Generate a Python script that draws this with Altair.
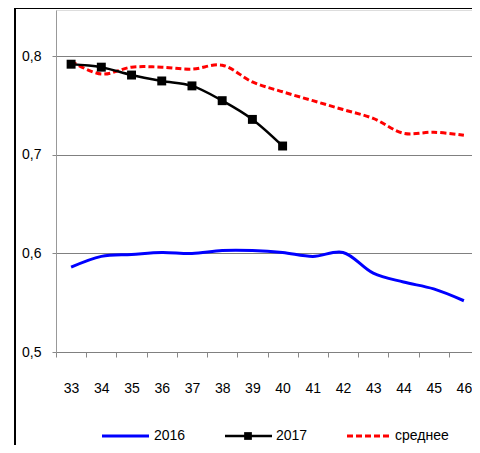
import altair as alt
import pandas as pd

ages = list(range(33, 47))
v2016 = [0.586, 0.597, 0.599, 0.601, 0.600, 0.603, 0.603, 0.601, 0.597, 0.601, 0.580, 0.571, 0.564, 0.552]
ages2017 = list(range(33, 41))
v2017 = [0.792, 0.789, 0.781, 0.775, 0.770, 0.755, 0.736, 0.709]
avg = [0.795, 0.782, 0.789, 0.789, 0.787, 0.791, 0.774, 0.764, 0.755, 0.746, 0.737, 0.722, 0.723, 0.720]
y_ticks = [0.5, 0.6, 0.7, 0.8]
series_names = ["2016", "2017", "среднее"]

FONT = "Liberation Sans"
FS = 14

df16 = pd.DataFrame({"age": ages, "v": v2016})
df17 = pd.DataFrame({"age": ages2017, "v": v2017})
dfavg = pd.DataFrame({"age": ages, "v": avg})

xenc = alt.X(
    "age:O",
    bandPosition=0.5,
    scale=alt.Scale(type="band", domain=ages, paddingInner=0, paddingOuter=0),
    axis=alt.Axis(
        title=None, tickBand="extent", grid=False, domain=False,
        tickColor="#888888", tickSize=5, labelFont=FONT, labelFontSize=FS,
        labelColor="#000000", labelBaseline="middle", labelPadding=31, labelAngle=0,
    ),
)
yenc = alt.Y(
    "v:Q",
    scale=alt.Scale(domain=[0.5, 0.847], nice=False, zero=False),
    axis=alt.Axis(
        title=None, values=y_ticks, grid=True, gridColor="#808080", gridWidth=1,
        domainColor="#999999", tickColor="#888888", tickSize=4,
        labelExpr="replace(format(datum.value, '.1f'), '.', ',')",
        labelFont=FONT, labelFontSize=FS, labelColor="#000000", labelPadding=11,
    ),
)

line16 = alt.Chart(df16).mark_line(color="#0000FF", strokeWidth=3, interpolate="catmull-rom").encode(x=xenc, y=yenc)
lineavg = alt.Chart(dfavg).mark_line(color="#FF0000", strokeWidth=3, strokeDash=[6, 3], interpolate="catmull-rom").encode(x=xenc, y=yenc)
line17 = alt.Chart(df17).mark_line(color="#000000", strokeWidth=2.5, interpolate="catmull-rom").encode(x=xenc, y=yenc)
pts17 = alt.Chart(df17).mark_point(shape="square", filled=True, color="#000000", size=80, opacity=1).encode(x=xenc, y=yenc)

one = pd.DataFrame({"a": [0]})
# chart frame (left and top borders)
frame_left = alt.Chart(one).mark_rule(color="#000000", strokeWidth=2).encode(x=alt.value(-41), y=alt.value(-2), y2=alt.value(440))
frame_top = alt.Chart(one).mark_rule(color="#000000", strokeWidth=2).encode(x=alt.value(-41), x2=alt.value(430), y=alt.value(-2))

# legend
ly = 426
leg = [
    alt.Chart(one).mark_rule(color="#0000FF", strokeWidth=3).encode(x=alt.value(46), x2=alt.value(93), y=alt.value(ly)),
    alt.Chart(one).mark_rule(color="#000000", strokeWidth=2.5).encode(x=alt.value(169), x2=alt.value(216), y=alt.value(ly)),
    alt.Chart(one).mark_point(shape="square", filled=True, color="#000000", size=60, opacity=1).encode(x=alt.value(192), y=alt.value(ly)),
    alt.Chart(one).mark_rule(color="#FF0000", strokeWidth=3, strokeDash=[6, 3]).encode(x=alt.value(291), x2=alt.value(334), y=alt.value(ly)),
]
for xpos, name in zip([98, 220, 339], series_names):
    leg.append(
        alt.Chart(one).mark_text(align="left", baseline="middle", font=FONT, fontSize=FS, color="#000000", text=name)
        .encode(x=alt.value(xpos), y=alt.value(ly))
    )

chart = alt.layer(frame_left, frame_top, line16, lineavg, line17, pts17, *leg).properties(
    width=423, height=342,
    autosize=alt.AutoSizeParams(type="none"),
    padding={"left": 48, "top": 2, "right": -7, "bottom": 93},
).configure_view(stroke=None).configure(background="#FFFFFF")

chart.save("out.html", embed_options={"renderer": "svg", "actions": False})
